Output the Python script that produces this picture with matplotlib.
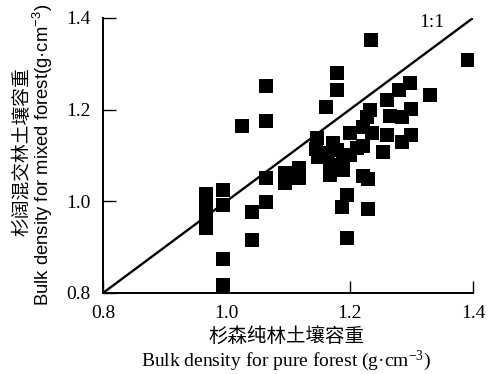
import matplotlib
matplotlib.use("Agg")
import matplotlib.pyplot as plt

# bulk density, pure forest (x) vs mixed forest (y), g/cm3
pure = [1.234, 1.392, 1.179, 1.179, 1.064, 1.064, 1.025, 1.161, 1.298, 1.280,
        1.330, 1.260, 1.299, 1.265, 1.285, 1.260, 1.299, 1.285, 1.254, 1.221,
        1.229, 1.195, 1.187, 1.229, 1.195, 1.168, 1.148, 1.147, 1.118, 1.118,
        1.095, 1.095, 1.064, 1.064, 1.041, 1.041, 0.994, 0.994, 0.994, 0.994,
        0.967, 0.967, 0.967, 0.967, 1.173, 1.200, 1.212, 1.228, 1.233, 1.221,
        1.189, 1.168, 1.189, 1.236, 1.221, 1.165, 1.145, 1.180, 1.200]
mixed = [1.352, 1.309, 1.280, 1.243, 1.252, 1.176, 1.165, 1.206, 1.259, 1.243,
         1.232, 1.221, 1.202, 1.186, 1.184, 1.145, 1.145, 1.130, 1.108, 1.055,
         1.049, 1.014, 0.988, 0.983, 0.920, 1.058, 1.097, 1.138, 1.073, 1.051,
         1.062, 1.040, 1.051, 0.999, 0.977, 0.916, 0.874, 0.817, 1.025, 0.992,
         1.016, 0.992, 0.968, 0.942, 1.128, 1.149, 1.117, 1.184, 1.200, 1.162,
         1.090, 1.079, 1.069, 1.150, 1.120, 1.105, 1.115, 1.112, 1.100]
ticks = [0.8, 1.0, 1.2, 1.4]
tick_labels = ["0.8", "1.0", "1.2", "1.4"]

serif = ["Liberation Serif", "DejaVu Serif"]
sans = ["Liberation Sans", "DejaVu Sans"]
cjk = ["Noto Sans CJK SC", "DejaVu Sans"]
unit = r"(g·cm$\mathregular{^{-3}}$)"

fig = plt.figure(figsize=(4.99, 3.74), dpi=100)
ax = fig.add_axes([0.2064, 0.2166, 0.7415, 0.7353])

ax.plot([0.8, 1.4], [0.8, 1.4], color="black", lw=1.7, zorder=2)
ax.scatter(pure, mixed, marker="s", s=88, color="black", lw=0, zorder=3)
ax.text(1.333, 1.39, "1:1", family=serif, fontsize=14, ha="center", va="center")

ax.set_xlim(0.8, 1.4)
ax.set_ylim(0.8, 1.4)
ax.set_xticks(ticks)
ax.set_xticklabels(tick_labels, family=serif, fontsize=14)
ax.set_yticks(ticks)
ax.set_yticklabels(tick_labels, family=serif, fontsize=14)
ax.tick_params(direction="in", length=9, width=1.0, pad=9)
ax.spines["top"].set_visible(False)
ax.spines["right"].set_visible(False)
for s in ("left", "bottom"):
    ax.spines[s].set_linewidth(1.4)

# axis titles
fig.text(22 / 499, 1 - 152 / 374, "杉阔混交林土壤容重", family=cjk, fontsize=13.5,
         rotation=90, ha="center", va="center")
fig.text(43 / 499, 1 - 155 / 374, "Bulk density for mixed forest" + unit,
         family=sans, fontsize=13.3, rotation=90, ha="center", va="center")
fig.text(286 / 499, 1 - 336 / 374, "杉森纯林土壤容重", family=cjk, fontsize=14,
         ha="center", va="center")
fig.text(286 / 499, 1 - 361 / 374, "Bulk density for pure forest " + unit,
         family=serif, fontsize=14, ha="center", va="center")

fig.savefig("out.png", dpi=100)
